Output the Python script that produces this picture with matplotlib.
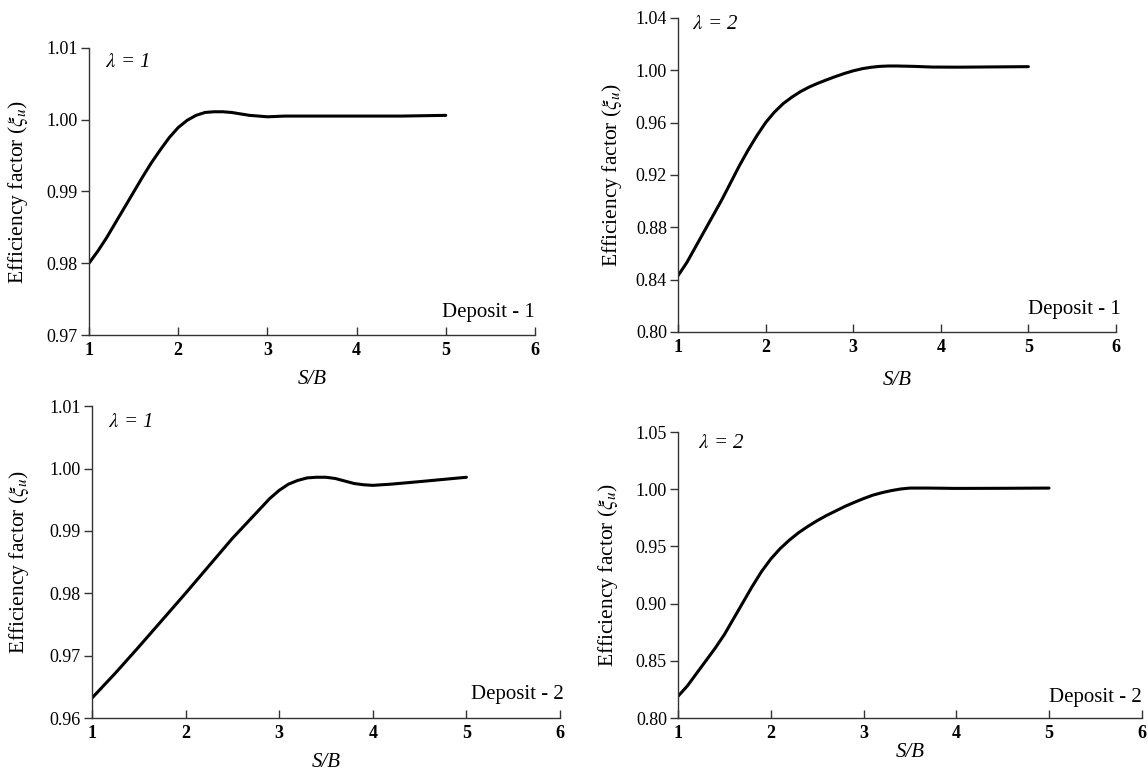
import matplotlib
matplotlib.use("Agg")
import matplotlib.pyplot as plt

plt.rcParams['font.family'] = ['Liberation Serif', 'DejaVu Serif']
plt.rcParams['mathtext.fontset'] = 'stix'

# Panel data (S/B vs efficiency factor)
sb_d1_l1 = [1.0, 1.1, 1.2, 1.3, 1.4, 1.5, 1.6, 1.7, 1.8, 1.9, 2.0, 2.1, 2.2, 2.3, 2.4, 2.5,
            2.6, 2.7, 2.8, 2.9, 3.0, 3.2, 3.5, 4.0, 4.5, 5.0]
eff_d1_l1 = [0.9800, 0.9817, 0.9836, 0.9857, 0.9878, 0.9899, 0.9920, 0.9940, 0.9958, 0.9975,
             0.9989, 0.9999, 1.0006, 1.0010, 1.0011, 1.0011, 1.0010, 1.0008, 1.0006, 1.0005,
             1.0004, 1.0005, 1.0005, 1.0005, 1.0005, 1.0006]

sb_d1_l2 = [1.0, 1.1, 1.2, 1.3, 1.4, 1.5, 1.6, 1.7, 1.8, 1.9, 2.0, 2.1, 2.2, 2.3, 2.4, 2.5,
            2.6, 2.7, 2.8, 2.9, 3.0, 3.1, 3.2, 3.3, 3.4, 3.5, 3.7, 3.9, 4.2, 4.6, 5.0]
eff_d1_l2 = [0.843, 0.853, 0.865, 0.877, 0.889, 0.901, 0.914, 0.927, 0.939, 0.950, 0.960,
             0.968, 0.9745, 0.9795, 0.9838, 0.9873, 0.9902, 0.9928, 0.9953, 0.9976, 0.9996,
             1.0012, 1.0023, 1.0030, 1.0033, 1.0033, 1.0030, 1.0025, 1.0024, 1.0026, 1.0028]

sb_d2_l1 = [1.0, 1.25, 1.5, 1.75, 2.0, 2.25, 2.5, 2.75, 2.9, 3.0, 3.1, 3.2, 3.3, 3.4, 3.5,
            3.6, 3.7, 3.8, 3.9, 4.0, 4.2, 4.5, 5.0]
eff_d2_l1 = [0.9632, 0.9672, 0.9714, 0.9757, 0.9800, 0.9844, 0.9888, 0.9928, 0.9952, 0.9965,
             0.9975, 0.9981, 0.9985, 0.9986, 0.9986, 0.9984, 0.9980, 0.9976, 0.9974, 0.9973,
             0.9975, 0.9979, 0.9986]

sb_d2_l2 = [1.0, 1.1, 1.2, 1.3, 1.4, 1.5, 1.6, 1.7, 1.8, 1.9, 2.0, 2.1, 2.2, 2.3, 2.4, 2.5,
            2.6, 2.7, 2.8, 2.9, 3.0, 3.1, 3.2, 3.3, 3.4, 3.5, 3.7, 4.0, 4.5, 5.0]
eff_d2_l2 = [0.819, 0.828, 0.839, 0.850, 0.861, 0.873, 0.887, 0.901, 0.915, 0.928, 0.939,
             0.948, 0.9555, 0.962, 0.9675, 0.9725, 0.977, 0.981, 0.985, 0.9885, 0.9918, 0.9948,
             0.997, 0.9988, 1.0002, 1.001, 1.001, 1.0007, 1.0008, 1.001]

x_ticks = [1, 2, 3, 4, 5, 6]
yticks_d1_l1 = [0.97, 0.98, 0.99, 1.00, 1.01]
yticks_d1_l2 = [0.80, 0.84, 0.88, 0.92, 0.96, 1.00, 1.04]
yticks_d2_l1 = [0.96, 0.97, 0.98, 0.99, 1.00, 1.01]
yticks_d2_l2 = [0.80, 0.85, 0.90, 0.95, 1.00, 1.05]

panels = [
    dict(x=sb_d1_l1, y=eff_d1_l1, yt=yticks_d1_l1, lam="1", dep="Deposit - 1",
         rect=[0.0775, 0.566, 0.3885, 0.372], ylc=-0.132, xlc=-0.122, lampos=(0.036, 0.95), deppos=(1.0, 0.077)),
    dict(x=sb_d1_l2, y=eff_d1_l2, yt=yticks_d1_l2, lam="2", dep="Deposit - 1",
         rect=[0.5906, 0.570, 0.3815, 0.4067], ylc=-0.123, xlc=-0.124, lampos=(0.032, 0.978), deppos=(1.01, 0.07)),
    dict(x=sb_d2_l1, y=eff_d2_l1, yt=yticks_d2_l1, lam="1", dep="Deposit - 2",
         rect=[0.0801, 0.0699, 0.4077, 0.404], ylc=-0.13, xlc=-0.112, lampos=(0.035, 0.946), deppos=(1.008, 0.074)),
    dict(x=sb_d2_l2, y=eff_d2_l2, yt=yticks_d2_l2, lam="2", dep="Deposit - 2",
         rect=[0.5906, 0.0699, 0.404, 0.3705], ylc=-0.125, xlc=-0.087, lampos=(0.043, 0.96), deppos=(1.0, 0.073)),
]

fig = plt.figure(figsize=(11.48, 7.72), dpi=100)
for p in panels:
    ax = fig.add_axes(p['rect'])
    ax.plot(p['x'], p['y'], color='black', lw=2.2, solid_capstyle='round', solid_joinstyle='round')
    ax.set_xlim(1, 6)
    ax.set_ylim(p['yt'][0], p['yt'][-1])
    ax.set_xticks(x_ticks)
    ax.set_xticklabels([str(t) for t in x_ticks], fontweight='bold', fontsize=13)
    ax.set_yticks(p['yt'])
    ax.set_yticklabels(["{:.2f}".format(t) for t in p['yt']], fontsize=13)
    for s in ['top', 'right']:
        ax.spines[s].set_visible(False)
    for s in ['left', 'bottom']:
        ax.spines[s].set_color('#333333')
        ax.spines[s].set_linewidth(1.0)
    ax.tick_params(axis='x', direction='in', length=6, width=1.0, color='#333333', pad=5)
    ax.tick_params(axis='y', direction='out', length=6, width=1.0, color='#333333', pad=2)
    ax.set_ylabel(r"Efficiency factor ($\xi_u$)", fontsize=15.5)
    ax.yaxis.set_label_coords(p['ylc'], 0.5)
    ax.set_xlabel("S/B", fontsize=15, style='italic')
    ax.xaxis.set_label_coords(0.5, p['xlc'])
    ax.text(p['lampos'][0], p['lampos'][1], r"$\lambda$ = " + p['lam'], transform=ax.transAxes,
            fontsize=15, style='italic', ha='left', va='center')
    ax.text(p['deppos'][0], p['deppos'][1], p['dep'], transform=ax.transAxes,
            fontsize=15, ha='right', va='center')

fig.savefig("out.png", dpi=100)
